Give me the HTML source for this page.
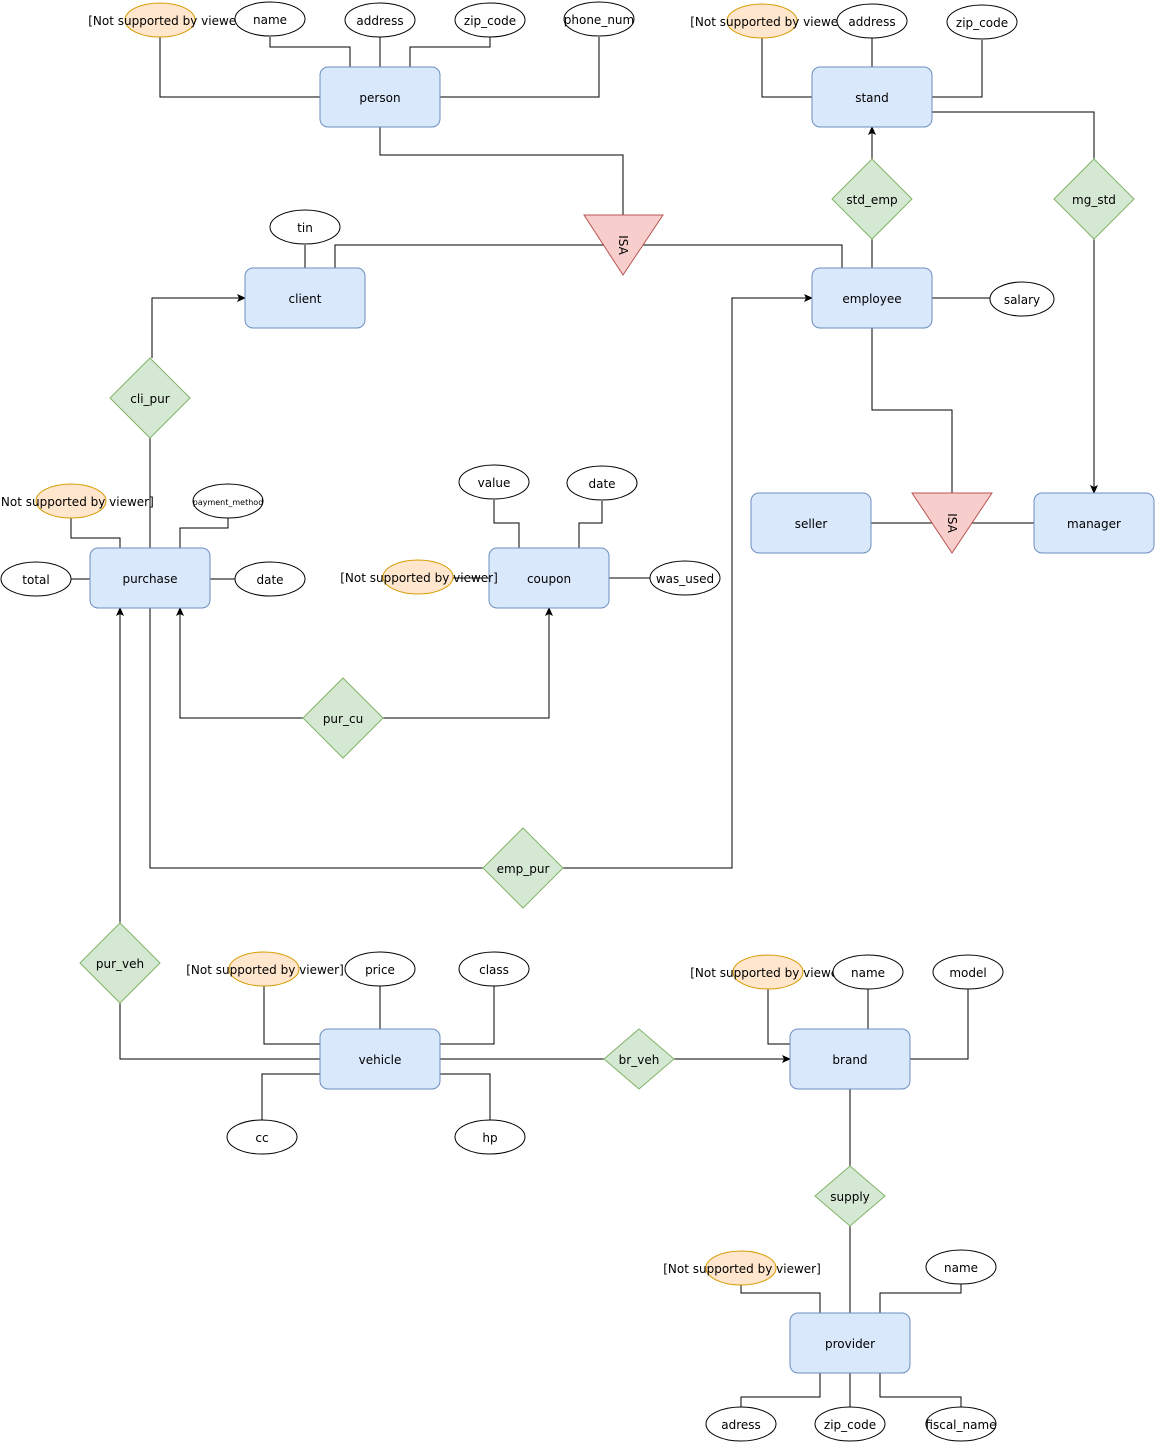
<!DOCTYPE html>
<html><head><meta charset="utf-8"><style>
html,body{margin:0;padding:0;background:#fff;}
svg{display:block;}
text{font-family:"DejaVu Sans","Liberation Sans",sans-serif;font-size:12px;fill:#000;}
.e{fill:#dae8fc;stroke:#6c8ebf;stroke-width:1;}
.a{fill:#fff;stroke:#000;stroke-width:1;}
.o{fill:#ffe6cc;stroke:#d79b00;stroke-width:1;}
.r{fill:#d5e8d4;stroke:#82b366;stroke-width:1;}
.t{fill:#f8cecc;stroke:#b85450;stroke-width:1;}
.l{fill:none;stroke:#000;stroke-width:1;}
</style></head><body>
<svg width="1156" height="1443" viewBox="0 0 1156 1443" xmlns="http://www.w3.org/2000/svg">
<defs><marker id="ar" markerWidth="10" markerHeight="10" refX="8" refY="4" orient="auto" markerUnits="userSpaceOnUse"><path d="M0,0 L9,4 L0,8 L2,4 Z" fill="#000"/></marker></defs>
<g class="l">
<polyline points="160,37 160,97 320,97"/>
<polyline points="270,37 270,47 350,47 350,67"/>
<polyline points="380,37 380,67"/>
<polyline points="490,37 490,47 410,47 410,67"/>
<polyline points="599,37 599,97 440,97"/>
<polyline points="380,127 380,155 623,155 623,215"/>
<polyline points="335,268 335,245 842,245 842,268"/>
<polyline points="305,245 305,268"/>
<polyline points="762,38 762,97 812,97"/>
<polyline points="872,38 872,67"/>
<polyline points="982,40 982,97 932,97"/>
<polyline points="932,112 1094,112 1094,159"/>
<polyline points="1094,239 1094,493" marker-end="url(#ar)"/>
<polyline points="872,159 872,127" marker-end="url(#ar)"/>
<polyline points="872,239 872,268"/>
<polyline points="932,298 990,298"/>
<polyline points="872,328 872,410 952,410 952,493"/>
<polyline points="871,523 1034,523"/>
<polyline points="152,358 152,298 245,298" marker-end="url(#ar)"/>
<polyline points="150,438 150,548"/>
<polyline points="71,518 71,538 120,538 120,548"/>
<polyline points="228,518 228,528 180,528 180,548"/>
<polyline points="71,579 90,579"/>
<polyline points="210,579 235,579"/>
<polyline points="494,500 494,523 519,523 519,548"/>
<polyline points="602,501 602,523 579,523 579,548"/>
<polyline points="453,578 489,578"/>
<polyline points="609,578 650,578"/>
<polyline points="303,718 180,718 180,608" marker-end="url(#ar)"/>
<polyline points="383,718 549,718 549,608" marker-end="url(#ar)"/>
<polyline points="150,608 150,868 483,868"/>
<polyline points="563,868 732,868 732,298 812,298" marker-end="url(#ar)"/>
<polyline points="120,923 120,608" marker-end="url(#ar)"/>
<polyline points="120,1003 120,1059 320,1059"/>
<polyline points="264,986 264,1044 320,1044"/>
<polyline points="380,986 380,1029"/>
<polyline points="494,986 494,1044 440,1044"/>
<polyline points="262,1120 262,1074 320,1074"/>
<polyline points="490,1120 490,1074 440,1074"/>
<polyline points="440,1059 604,1059"/>
<polyline points="674,1059 790,1059" marker-end="url(#ar)"/>
<polyline points="768,989 768,1044 790,1044"/>
<polyline points="868,989 868,1029"/>
<polyline points="968,989 968,1059 910,1059"/>
<polyline points="850,1089 850,1166"/>
<polyline points="850,1226 850,1313"/>
<polyline points="741,1285 741,1293 820,1293 820,1313"/>
<polyline points="961,1284 961,1293 880,1293 880,1313"/>
<polyline points="741,1407 741,1397 820,1397 820,1373"/>
<polyline points="850,1373 850,1407"/>
<polyline points="961,1407 961,1397 880,1397 880,1373"/>
</g>
<!-- triangles -->
<polygon class="t" points="584,215 663,215 623,275"/>
<text transform="translate(623,245) rotate(90)" text-anchor="middle" dy="4">ISA</text>
<polygon class="t" points="912,493 992,493 952,553"/>
<text transform="translate(952,523) rotate(90)" text-anchor="middle" dy="4">ISA</text>
<!-- entities -->
<g>
<rect class="e" x="320" y="67" width="120" height="60" rx="8"/><text x="380" y="102" text-anchor="middle">person</text>
<rect class="e" x="812" y="67" width="120" height="60" rx="8"/><text x="872" y="102" text-anchor="middle">stand</text>
<rect class="e" x="245" y="268" width="120" height="60" rx="8"/><text x="305" y="303" text-anchor="middle">client</text>
<rect class="e" x="812" y="268" width="120" height="60" rx="8"/><text x="872" y="303" text-anchor="middle">employee</text>
<rect class="e" x="751" y="493" width="120" height="60" rx="8"/><text x="811" y="528" text-anchor="middle">seller</text>
<rect class="e" x="1034" y="493" width="120" height="60" rx="8"/><text x="1094" y="528" text-anchor="middle">manager</text>
<rect class="e" x="90" y="548" width="120" height="60" rx="8"/><text x="150" y="583" text-anchor="middle">purchase</text>
<rect class="e" x="489" y="548" width="120" height="60" rx="8"/><text x="549" y="583" text-anchor="middle">coupon</text>
<rect class="e" x="320" y="1029" width="120" height="60" rx="8"/><text x="380" y="1064" text-anchor="middle">vehicle</text>
<rect class="e" x="790" y="1029" width="120" height="60" rx="8"/><text x="850" y="1064" text-anchor="middle">brand</text>
<rect class="e" x="790" y="1313" width="120" height="60" rx="8"/><text x="850" y="1348" text-anchor="middle">provider</text>
</g>
<!-- diamonds -->
<polygon class="r" points="872,159 912,199 872,239 832,199"/><text x="872" y="204" text-anchor="middle">std_emp</text>
<polygon class="r" points="1094,159 1134,199 1094,239 1054,199"/><text x="1094" y="204" text-anchor="middle">mg_std</text>
<polygon class="r" points="150,358 190,398 150,438 110,398"/><text x="150" y="403" text-anchor="middle">cli_pur</text>
<polygon class="r" points="343,678 383,718 343,758 303,718"/><text x="343" y="723" text-anchor="middle">pur_cu</text>
<polygon class="r" points="523,828 563,868 523,908 483,868"/><text x="523" y="873" text-anchor="middle">emp_pur</text>
<polygon class="r" points="120,923 160,963 120,1003 80,963"/><text x="120" y="968" text-anchor="middle">pur_veh</text>
<polygon class="r" points="639,1029 674,1059 639,1089 604,1059"/><text x="639" y="1064" text-anchor="middle">br_veh</text>
<polygon class="r" points="850,1166 885,1196 850,1226 815,1196"/><text x="850" y="1201" text-anchor="middle">supply</text>
<!-- orange ellipses + text -->
<ellipse class="o" cx="160" cy="20" rx="35" ry="17"/><text x="167" y="25" text-anchor="middle">[Not supported by viewer]</text>
<ellipse class="o" cx="762" cy="21" rx="35" ry="17"/><text x="769" y="26" text-anchor="middle">[Not supported by viewer]</text>
<ellipse class="o" cx="71" cy="501" rx="35" ry="17"/><text x="75" y="506" text-anchor="middle">[Not supported by viewer]</text>
<ellipse class="o" cx="418" cy="577" rx="35" ry="17"/><text x="419" y="582" text-anchor="middle">[Not supported by viewer]</text>
<ellipse class="o" cx="264" cy="969" rx="35" ry="17"/><text x="265" y="974" text-anchor="middle">[Not supported by viewer]</text>
<ellipse class="o" cx="768" cy="972" rx="35" ry="17"/><text x="769" y="977" text-anchor="middle">[Not supported by viewer]</text>
<ellipse class="o" cx="741" cy="1268" rx="35" ry="17"/><text x="742" y="1273" text-anchor="middle">[Not supported by viewer]</text>
<!-- attributes -->
<g>
<ellipse class="a" cx="270" cy="19" rx="35" ry="17"/><text x="270" y="24" text-anchor="middle">name</text>
<ellipse class="a" cx="380" cy="20" rx="35" ry="17"/><text x="380" y="25" text-anchor="middle">address</text>
<ellipse class="a" cx="490" cy="20" rx="35" ry="17"/><text x="490" y="25" text-anchor="middle">zip_code</text>
<ellipse class="a" cx="599" cy="19" rx="35" ry="17"/><text x="599" y="24" text-anchor="middle">phone_num</text>
<ellipse class="a" cx="872" cy="21" rx="35" ry="17"/><text x="872" y="26" text-anchor="middle">address</text>
<ellipse class="a" cx="982" cy="22" rx="35" ry="17"/><text x="982" y="27" text-anchor="middle">zip_code</text>
<ellipse class="a" cx="305" cy="227" rx="35" ry="17"/><text x="305" y="232" text-anchor="middle">tin</text>
<ellipse class="a" cx="1022" cy="299" rx="32" ry="17"/><text x="1022" y="304" text-anchor="middle">salary</text>
<ellipse class="a" cx="228" cy="501" rx="35" ry="17"/><text x="228" y="505" text-anchor="middle" style="font-size:8px">payment_method</text>
<ellipse class="a" cx="36" cy="579" rx="35" ry="17"/><text x="36" y="584" text-anchor="middle">total</text>
<ellipse class="a" cx="270" cy="579" rx="35" ry="17"/><text x="270" y="584" text-anchor="middle">date</text>
<ellipse class="a" cx="494" cy="482" rx="35" ry="17"/><text x="494" y="487" text-anchor="middle">value</text>
<ellipse class="a" cx="602" cy="483" rx="35" ry="17"/><text x="602" y="488" text-anchor="middle">date</text>
<ellipse class="a" cx="685" cy="578" rx="35" ry="17"/><text x="685" y="583" text-anchor="middle">was_used</text>
<ellipse class="a" cx="380" cy="969" rx="35" ry="17"/><text x="380" y="974" text-anchor="middle">price</text>
<ellipse class="a" cx="494" cy="969" rx="35" ry="17"/><text x="494" y="974" text-anchor="middle">class</text>
<ellipse class="a" cx="262" cy="1137" rx="35" ry="17"/><text x="262" y="1142" text-anchor="middle">cc</text>
<ellipse class="a" cx="490" cy="1137" rx="35" ry="17"/><text x="490" y="1142" text-anchor="middle">hp</text>
<ellipse class="a" cx="868" cy="972" rx="35" ry="17"/><text x="868" y="977" text-anchor="middle">name</text>
<ellipse class="a" cx="968" cy="972" rx="35" ry="17"/><text x="968" y="977" text-anchor="middle">model</text>
<ellipse class="a" cx="961" cy="1267" rx="35" ry="17"/><text x="961" y="1272" text-anchor="middle">name</text>
<ellipse class="a" cx="741" cy="1424" rx="35" ry="17"/><text x="741" y="1429" text-anchor="middle">adress</text>
<ellipse class="a" cx="850" cy="1424" rx="35" ry="17"/><text x="850" y="1429" text-anchor="middle">zip_code</text>
<ellipse class="a" cx="961" cy="1424" rx="35" ry="17"/><text x="961" y="1429" text-anchor="middle">fiscal_name</text>
</g>
</svg>
</body></html>
